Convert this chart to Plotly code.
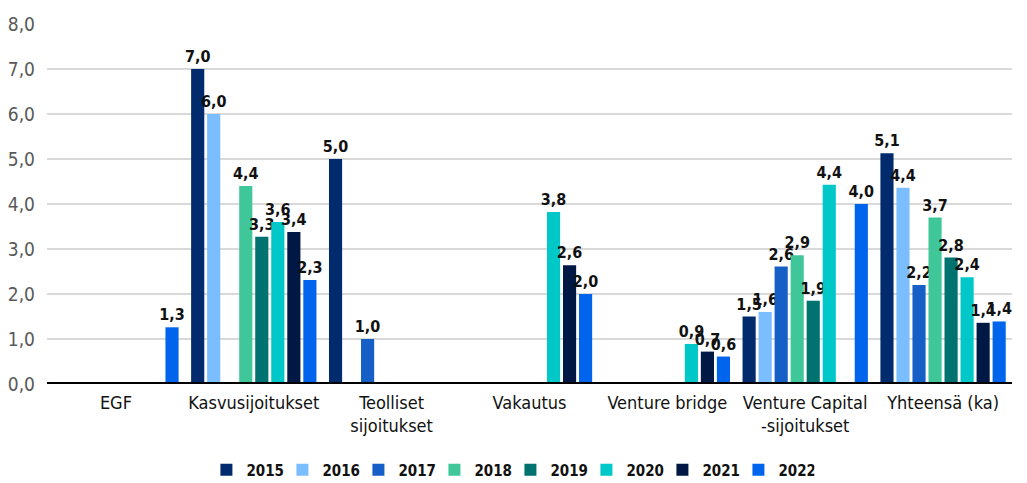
import plotly.graph_objects as go

categories = ["EGF", "Kasvusijoitukset", "Teolliset<br>sijoitukset", "Vakautus",
              "Venture bridge", "Venture Capital<br>-sijoitukset", "Yhteensä (ka)"]
years = ["2015", "2016", "2017", "2018", "2019", "2020", "2021", "2022"]

v2015 = [None, 7.0, 5.0, None, None, 1.5, 5.13]
v2016 = [None, 6.0, None, None, None, 1.6, 4.36]
v2017 = [None, None, 1.0, None, None, 2.61, 2.2]
v2018 = [None, 4.4, None, None, None, 2.86, 3.7]
v2019 = [None, 3.27, None, None, None, 1.85, 2.81]
v2020 = [None, 3.6, None, 3.82, 0.89, 4.43, 2.37]
v2021 = [None, 3.38, None, 2.64, 0.72, None, 1.36]
v2022 = [1.26, 2.31, None, 2.0, 0.61, 4.0, 1.39]

series = [v2015, v2016, v2017, v2018, v2019, v2020, v2021, v2022]
colors = ["#022B6D", "#7BBEFF", "#165FC6", "#40C799", "#00726F", "#00C8C8", "#011845", "#0065EC"]

FONT = "DejaVu Sans Condensed, Liberation Sans Narrow, sans-serif"

fig = go.Figure()
for name, vals, col in zip(years, series, colors):
    fig.add_trace(go.Bar(
        name=name, x=categories, y=vals, marker=dict(color=col, line=dict(width=0)),
        texttemplate="%{y:.1f}", textposition="outside", constraintext="none",
        textfont=dict(family=FONT, size=16, color="#111111", weight="bold"), cliponaxis=False,
    ))

fig.update_layout(
    width=1027, height=483, barmode="group", bargap=0.07, bargroupgap=0.18,
    separators=", ", plot_bgcolor="white", paper_bgcolor="white",
    margin=dict(l=47, r=15, t=24, b=99),
    font=dict(family=FONT, size=16, color="#111111"),
    xaxis=dict(showgrid=False, showline=False, ticks="", automargin=False,
               tickfont=dict(size=18, color="#111111"), ticklabelstandoff=6),
    yaxis=dict(range=[0, 8], dtick=1, tickformat=".1f", gridcolor="#D9D9D9", gridwidth=1.5,
               zeroline=False, showline=False, automargin=False,
               tickfont=dict(size=19, color="#595959"), ticklabelstandoff=11),
    legend=dict(orientation="h", xref="container", x=0.497, xanchor="center",
                yref="container", y=0.027, yanchor="middle", itemwidth=30,
                entrywidth=31, entrywidthmode="pixels",
                font=dict(size=15, color="#111111", weight="bold"), traceorder="normal"),
    showlegend=True,
)
fig.add_shape(type="line", xref="paper", yref="y", x0=0, x1=1, y0=0, y1=0,
              line=dict(color="black", width=4))
fig.write_html("out.html", config={"displayModeBar": False},
               post_script="document.body.style.margin='0';")
